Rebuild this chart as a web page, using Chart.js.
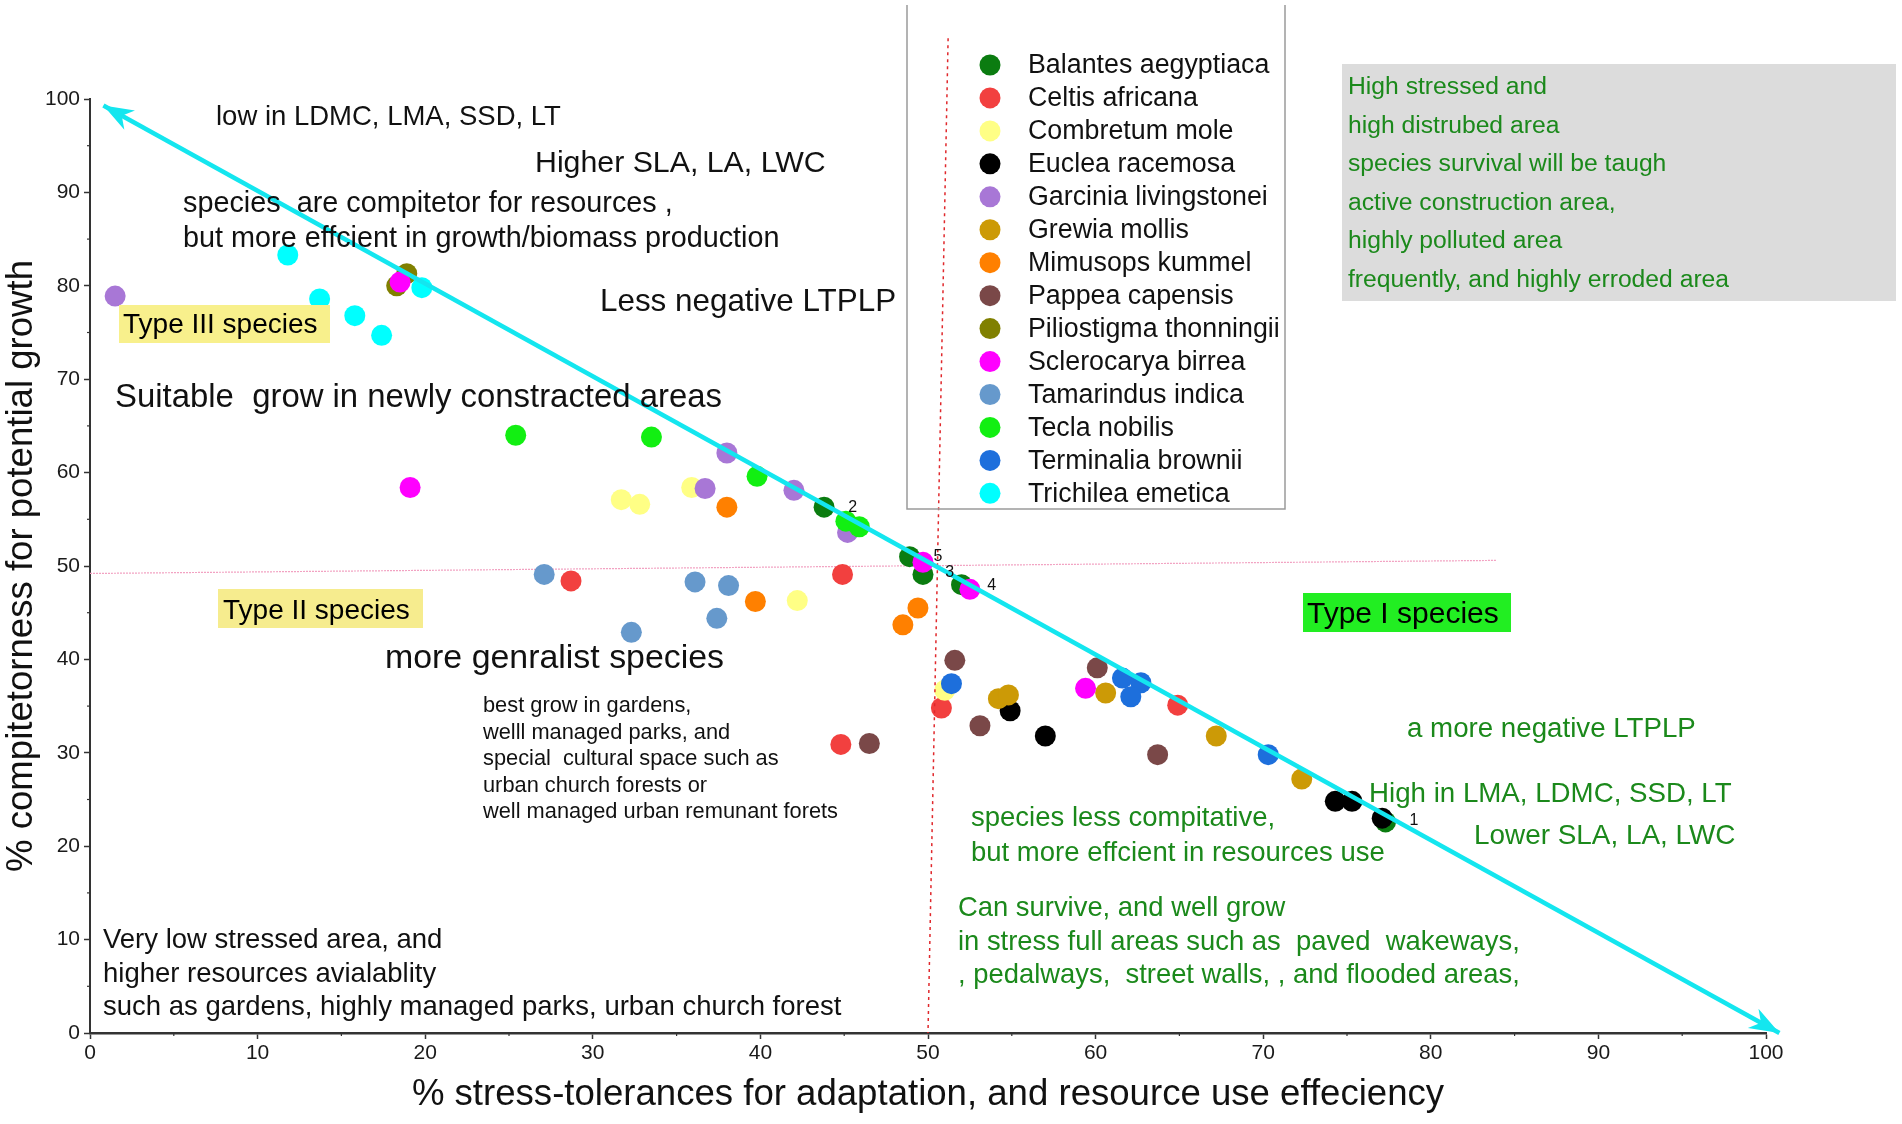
<!DOCTYPE html>
<html>
<head>
<meta charset="utf-8">
<title>Species strategy scatter</title>
<script src="https://cdn.jsdelivr.net/npm/chart.js"></script>
<style>
  html, body { margin: 0; padding: 0; background: #fff; }
  #wrap { width: 1902px; height: 1124px; }
</style>
</head>
<body>
<div id="wrap"><canvas id="mycanvas" width="1902" height="1124"></canvas></div>
<script>
// legend order
var speciesNames = ['Balantes aegyptiaca', 'Celtis africana', 'Combretum mole', 'Euclea racemosa',
  'Garcinia livingstonei', 'Grewia mollis', 'Mimusops kummel', 'Pappea capensis',
  'Piliostigma thonningii', 'Sclerocarya birrea', 'Tamarindus indica', 'Tecla nobilis',
  'Terminalia brownii', 'Trichilea emetica'];
var speciesColors = ['#0b7c10', '#f2403f', '#ffff85', '#000000', '#a877d6', '#cc9a06', '#ff8000',
  '#7a4848', '#808000', '#ff00ff', '#6699cc', '#12ef12', '#1d6fdc', '#00ffff'];

// x = % stress-tolerance, y = % competitiveness
var balantesX = [77.3, 43.8, 49.7, 52.0, 48.9];
var balantesY = [22.6, 56.3, 49.1, 48.0, 51.0];
var celtisX = [28.7, 44.9, 44.8, 50.8, 64.9];
var celtisY = [48.4, 49.1, 30.9, 34.8, 35.1];
var combretumX = [31.7, 32.8, 35.9, 42.2, 51.0];
var combretumY = [57.1, 56.6, 58.4, 46.3, 36.7];
var eucleaX = [54.9, 57.0, 74.3, 75.3, 77.1];
var eucleaY = [34.5, 31.8, 24.8, 24.8, 23.0];
var garciniaX = [1.5, 38.0, 36.7, 42.0, 45.2];
var garciniaY = [78.9, 62.1, 58.3, 58.1, 53.6];
var grewiaX = [54.2, 54.8, 60.6, 67.2, 72.3];
var grewiaY = [35.8, 36.2, 36.4, 31.8, 27.2];
var mimusopsX = [38.0, 39.7, 48.5, 49.4];
var mimusopsY = [56.3, 46.2, 43.7, 45.5];
var pappeaX = [46.5, 51.6, 53.1, 60.1, 63.7];
var pappeaY = [31.0, 39.9, 32.9, 39.1, 29.8];
var piliostigmaX = [18.3, 18.9];
var piliostigmaY = [80.0, 81.3];
var sclerocaryaX = [18.5, 19.1, 49.7, 52.5, 59.4];
var sclerocaryaY = [80.4, 58.4, 50.4, 47.5, 36.9];
var tamarindusX = [27.1, 36.1, 38.1, 37.4, 32.3];
var tamarindusY = [49.1, 48.3, 47.9, 44.4, 42.9];
var teclaX = [25.4, 33.5, 39.8, 45.1, 45.9];
var teclaY = [64.0, 63.8, 59.6, 54.8, 54.2];
var terminaliaX = [51.4, 61.6, 62.7, 62.1, 70.3];
var terminaliaY = [37.4, 38.0, 37.5, 36.0, 29.8];
var trichileaX = [11.8, 13.7, 15.8, 17.4, 19.8];
var trichileaY = [83.3, 78.6, 76.8, 74.7, 79.8];

var speciesX = [balantesX, celtisX, combretumX, eucleaX, garciniaX, grewiaX, mimusopsX,
  pappeaX, piliostigmaX, sclerocaryaX, tamarindusX, teclaX, terminaliaX, trichileaX];
var speciesY = [balantesY, celtisY, combretumY, eucleaY, garciniaY, grewiaY, mimusopsY,
  pappeaY, piliostigmaY, sclerocaryaY, tamarindusY, teclaY, terminaliaY, trichileaY];

// guide lines
var arrowX = [0.8, 100.8];
var arrowY = [99.3, 0];
var redLineX = [51.2, 50.0];
var redLineY = [106.5, 0];
var pinkLineX = [0, 83.9];
var pinkLineY = [49.2, 50.6];

// numbered Balantes points
var numLabels = ['1', '2', '3', '4', '5'];
var numX = [79.0, 45.5, 51.3, 53.8, 50.6];
var numY = [22.7, 56.3, 49.3, 47.9, 51.0];

var xTicks = [0, 10, 20, 30, 40, 50, 60, 70, 80, 90, 100];
var yTicks = [0, 10, 20, 30, 40, 50, 60, 70, 80, 90, 100];

var FONT = '"Liberation Sans", Arial, sans-serif';
var GREEN_TXT = '#1b891b';

function zip(xs, ys) {
  return xs.map(function(x, j) { return {x: x, y: ys[j]}; });
}

var datasets = speciesNames.map(function(name, i) {
  return {
    label: name,
    data: zip(speciesX[i], speciesY[i]),
    backgroundColor: speciesColors[i],
    borderColor: speciesColors[i],
    borderWidth: 0,
    pointRadius: 10.5,
    pointHoverRadius: 10.5,
    order: 30 - i,
    isSpecies: true
  };
});

datasets.push({
  label: 'trend',
  data: zip(arrowX, arrowY),
  showLine: true,
  borderColor: '#14e6ef',
  borderWidth: 4.5,
  pointRadius: 0,
  clip: false,
  order: 0
});
datasets.push({
  label: 'x50',
  data: zip(redLineX, redLineY),
  showLine: true,
  borderColor: '#e0282c',
  borderWidth: 1.5,
  borderDash: [3, 4],
  pointRadius: 0,
  clip: false,
  order: 1
});
datasets.push({
  label: 'y50',
  data: zip(pinkLineX, pinkLineY),
  showLine: true,
  borderColor: '#f2a2c2',
  borderWidth: 1.2,
  borderDash: [2, 1],
  pointRadius: 0,
  clip: false,
  order: 40
});

var boxes = [
  {x: 1342, y: 64, w: 554, h: 237, fill: '#dcdcdc'},
  {x: 119, y: 305, w: 211, h: 38, fill: '#f8f08c', text: 'Type III species', tx: 123, ty: 333, size: 28},
  {x: 218, y: 589, w: 205, h: 39, fill: '#f6ec8e', text: 'Type II species', tx: 223, ty: 618.5, size: 28},
  {x: 1303, y: 593, w: 208, h: 39, fill: '#22ee22', text: 'Type I species', tx: 1307, ty: 623, size: 30}
];

var notes = [
  {lines: ['low in LDMC, LMA, SSD, LT'], x: 216, y: 125, size: 27.5},
  {lines: ['Higher SLA, LA, LWC'], x: 535, y: 172, size: 30.3},
  {lines: ['species  are compitetor for resources ,', 'but more effcient in growth/biomass production'], x: 183, y: 212, gap: 35, size: 28.8},
  {lines: ['Less negative LTPLP'], x: 600, y: 311, size: 31.4},
  {lines: ['Suitable  grow in newly constracted areas'], x: 115, y: 407, size: 32.9},
  {lines: ['more genralist species'], x: 385, y: 668, size: 33.9},
  {lines: ['best grow in gardens,', 'welll managed parks, and', 'special  cultural space such as',
    'urban church forests or', 'well managed urban remunant forets'], x: 483, y: 712, gap: 26.5, size: 21.8},
  {lines: ['Very low stressed area, and', 'higher resources avialablity',
    'such as gardens, highly managed parks, urban church forest'], x: 103, y: 948, gap: 33.5, size: 27.5},
  {lines: ['High stressed and', 'high distrubed area', 'species survival will be taugh',
    'active construction area,', 'highly polluted area', 'frequently, and highly erroded area'],
    x: 1348, y: 94, gap: 38.5, size: 24.7, color: GREEN_TXT},
  {lines: ['a more negative LTPLP'], x: 1407, y: 737, size: 27.7, color: GREEN_TXT},
  {lines: ['High in LMA, LDMC, SSD, LT'], x: 1369, y: 802, size: 27.7, color: GREEN_TXT},
  {lines: ['Lower SLA, LA, LWC'], x: 1474, y: 844, size: 27.9, color: GREEN_TXT},
  {lines: ['species less compitative,', 'but more effcient in resources use'], x: 971, y: 826, gap: 35, size: 27.5, color: GREEN_TXT},
  {lines: ['Can survive, and well grow', 'in stress full areas such as  paved  wakeways,',
    ', pedalways,  street walls, , and flooded areas,'], x: 958, y: 916, gap: 33.5, size: 27.4, color: GREEN_TXT}
];

function arrowHead(ctx, tipX, tipY, fromX, fromY) {
  var ang = Math.atan2(tipY - fromY, tipX - fromX);
  var L = 30, W = 11, N = 21;
  ctx.save();
  ctx.translate(tipX, tipY);
  ctx.rotate(ang);
  ctx.beginPath();
  ctx.moveTo(0, 0);
  ctx.lineTo(-L, -W);
  ctx.lineTo(-N, 0);
  ctx.lineTo(-L, W);
  ctx.closePath();
  ctx.fillStyle = '#14e6ef';
  ctx.fill();
  ctx.restore();
}

var decor = {
  id: 'decor',
  afterDraw: function(chart) {
    var ctx = chart.ctx;
    var xs = chart.scales.x, ys = chart.scales.y;
    var area = chart.chartArea;

    // minor ticks
    ctx.save();
    ctx.strokeStyle = '#333';
    ctx.lineWidth = 1.2;
    for (var v = 5; v < 100; v += 10) {
      var px = xs.getPixelForValue(v);
      ctx.beginPath(); ctx.moveTo(px, area.bottom); ctx.lineTo(px, area.bottom + 3); ctx.stroke();
      var py = ys.getPixelForValue(v);
      ctx.beginPath(); ctx.moveTo(area.left, py); ctx.lineTo(area.left - 3, py); ctx.stroke();
    }
    ctx.restore();

    // arrow heads on the trend line
    var ax0 = xs.getPixelForValue(arrowX[0]), ay0 = ys.getPixelForValue(arrowY[0]);
    var ax1 = xs.getPixelForValue(arrowX[1]), ay1 = ys.getPixelForValue(arrowY[1]);
    arrowHead(ctx, ax0, ay0, ax1, ay1);
    arrowHead(ctx, ax1, ay1, ax0, ay0);

    // point numbers
    ctx.save();
    ctx.fillStyle = '#111';
    ctx.font = '16px ' + FONT;
    ctx.textAlign = 'center';
    ctx.textBaseline = 'middle';
    numLabels.forEach(function(t, i) {
      ctx.fillText(t, xs.getPixelForValue(numX[i]), ys.getPixelForValue(numY[i]));
    });
    ctx.restore();

    // boxes
    ctx.save();
    boxes.forEach(function(b) {
      ctx.fillStyle = b.fill;
      ctx.fillRect(b.x, b.y, b.w, b.h);
      if (b.text) {
        ctx.fillStyle = '#000';
        ctx.font = b.size + 'px ' + FONT;
        ctx.textBaseline = 'alphabetic';
        ctx.textAlign = 'left';
        ctx.fillText(b.text, b.tx, b.ty);
      }
    });
    ctx.restore();

    // free text
    ctx.save();
    ctx.textAlign = 'left';
    ctx.textBaseline = 'alphabetic';
    notes.forEach(function(n) {
      ctx.fillStyle = n.color || '#111';
      ctx.font = n.size + 'px ' + FONT;
      n.lines.forEach(function(line, k) {
        ctx.fillText(line, n.x, n.y + k * (n.gap || 0));
      });
    });
    ctx.restore();

    // legend
    ctx.save();
    ctx.strokeStyle = '#9a9a9a';
    ctx.lineWidth = 1.5;
    ctx.beginPath();
    ctx.moveTo(907, 5); ctx.lineTo(907, 509); ctx.lineTo(1285, 509); ctx.lineTo(1285, 5);
    ctx.stroke();
    ctx.font = '26.8px ' + FONT;
    ctx.textBaseline = 'middle';
    ctx.textAlign = 'left';
    var row = 0;
    chart.data.datasets.forEach(function(ds) {
      if (!ds.isSpecies) return;
      var cy = 65 + row * 32.95;
      ctx.beginPath();
      ctx.arc(990, cy, 10.5, 0, Math.PI * 2);
      ctx.fillStyle = ds.backgroundColor;
      ctx.fill();
      ctx.fillStyle = '#111';
      ctx.fillText(ds.label, 1028, cy + 1);
      row++;
    });
    ctx.restore();
  }
};

var ctx = document.getElementById('mycanvas');

var chart = new Chart(ctx, {
  type: 'scatter',
  data: { datasets: datasets },
  options: {
    responsive: false,
    animation: false,
    events: [],
    layout: { padding: { top: 99, right: 136, left: 0, bottom: 0 } },
    plugins: {
      legend: { display: false },
      tooltip: { enabled: false }
    },
    scales: {
      x: {
        type: 'linear',
        min: 0,
        max: 100,
        afterBuildTicks: function(scale) { scale.ticks = xTicks.map(function(v) { return {value: v}; }); },
        afterFit: function(scale) { scale.height = 91; },
        ticks: { font: { size: 21, family: FONT }, color: '#1a1a1a', padding: 2, maxRotation: 0 },
        grid: { drawOnChartArea: false, drawTicks: true, tickLength: 6, tickColor: '#333', tickWidth: 1.5 },
        border: { display: true, color: '#333', width: 2.5 },
        title: {
          display: true,
          text: '% stress-tolerances for adaptation, and resource use effeciency',
          font: { size: 36.6, family: FONT },
          color: '#111',
          padding: { top: 0, bottom: 7 }
        }
      },
      y: {
        type: 'linear',
        min: 0,
        max: 100,
        afterBuildTicks: function(scale) { scale.ticks = yTicks.map(function(v) { return {value: v}; }); },
        afterFit: function(scale) { scale.width = 90; },
        ticks: { font: { size: 21, family: FONT }, color: '#1a1a1a', padding: 4 },
        grid: { drawOnChartArea: false, drawTicks: true, tickLength: 6, tickColor: '#333', tickWidth: 1.5 },
        border: { display: true, color: '#333', width: 2 },
        title: {
          display: true,
          text: '% compitetorness for potential growth',
          font: { size: 36.6, family: FONT },
          color: '#111',
          padding: { top: 0, bottom: 0 }
        }
      }
    }
  },
  plugins: [decor]
});
</script>
</body>
</html>
